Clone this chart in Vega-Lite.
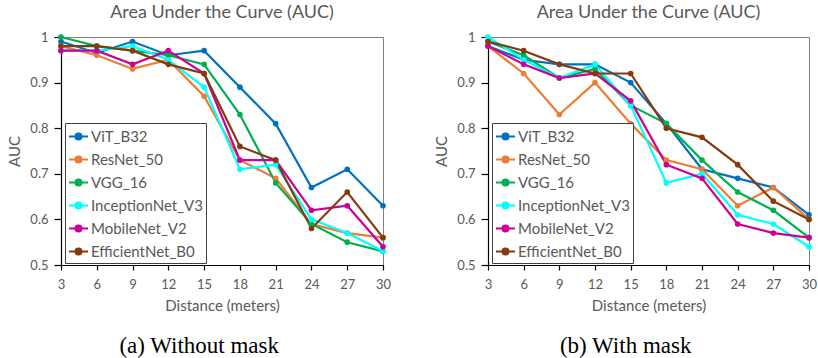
{
  "$schema": "https://vega.github.io/schema/vega-lite/v6.json",
  "padding": {"left": 7, "top": 3, "right": 0, "bottom": 2},
  "background": "white",
  "datasets": {
    "without": [
      {"m": "ViT_B32", "d": 3, "auc": 0.99}, {"m": "ViT_B32", "d": 6, "auc": 0.965}, {"m": "ViT_B32", "d": 9, "auc": 0.99}, {"m": "ViT_B32", "d": 12, "auc": 0.96}, {"m": "ViT_B32", "d": 15, "auc": 0.97}, {"m": "ViT_B32", "d": 18, "auc": 0.89}, {"m": "ViT_B32", "d": 21, "auc": 0.81}, {"m": "ViT_B32", "d": 24, "auc": 0.67}, {"m": "ViT_B32", "d": 27, "auc": 0.71}, {"m": "ViT_B32", "d": 30, "auc": 0.63},
      {"m": "ResNet_50", "d": 3, "auc": 0.98}, {"m": "ResNet_50", "d": 6, "auc": 0.96}, {"m": "ResNet_50", "d": 9, "auc": 0.93}, {"m": "ResNet_50", "d": 12, "auc": 0.95}, {"m": "ResNet_50", "d": 15, "auc": 0.87}, {"m": "ResNet_50", "d": 18, "auc": 0.73}, {"m": "ResNet_50", "d": 21, "auc": 0.69}, {"m": "ResNet_50", "d": 24, "auc": 0.59}, {"m": "ResNet_50", "d": 27, "auc": 0.57}, {"m": "ResNet_50", "d": 30, "auc": 0.56},
      {"m": "VGG_16", "d": 3, "auc": 1.0}, {"m": "VGG_16", "d": 6, "auc": 0.98}, {"m": "VGG_16", "d": 9, "auc": 0.97}, {"m": "VGG_16", "d": 12, "auc": 0.96}, {"m": "VGG_16", "d": 15, "auc": 0.94}, {"m": "VGG_16", "d": 18, "auc": 0.83}, {"m": "VGG_16", "d": 21, "auc": 0.68}, {"m": "VGG_16", "d": 24, "auc": 0.59}, {"m": "VGG_16", "d": 27, "auc": 0.55}, {"m": "VGG_16", "d": 30, "auc": 0.53},
      {"m": "InceptionNet_V3", "d": 3, "auc": 0.97}, {"m": "InceptionNet_V3", "d": 6, "auc": 0.97}, {"m": "InceptionNet_V3", "d": 9, "auc": 0.98}, {"m": "InceptionNet_V3", "d": 12, "auc": 0.95}, {"m": "InceptionNet_V3", "d": 15, "auc": 0.89}, {"m": "InceptionNet_V3", "d": 18, "auc": 0.71}, {"m": "InceptionNet_V3", "d": 21, "auc": 0.72}, {"m": "InceptionNet_V3", "d": 24, "auc": 0.6}, {"m": "InceptionNet_V3", "d": 27, "auc": 0.57}, {"m": "InceptionNet_V3", "d": 30, "auc": 0.53},
      {"m": "MobileNet_V2", "d": 3, "auc": 0.97}, {"m": "MobileNet_V2", "d": 6, "auc": 0.97}, {"m": "MobileNet_V2", "d": 9, "auc": 0.94}, {"m": "MobileNet_V2", "d": 12, "auc": 0.97}, {"m": "MobileNet_V2", "d": 15, "auc": 0.92}, {"m": "MobileNet_V2", "d": 18, "auc": 0.73}, {"m": "MobileNet_V2", "d": 21, "auc": 0.73}, {"m": "MobileNet_V2", "d": 24, "auc": 0.62}, {"m": "MobileNet_V2", "d": 27, "auc": 0.63}, {"m": "MobileNet_V2", "d": 30, "auc": 0.54},
      {"m": "EfficientNet_B0", "d": 3, "auc": 0.98}, {"m": "EfficientNet_B0", "d": 6, "auc": 0.98}, {"m": "EfficientNet_B0", "d": 9, "auc": 0.97}, {"m": "EfficientNet_B0", "d": 12, "auc": 0.94}, {"m": "EfficientNet_B0", "d": 15, "auc": 0.92}, {"m": "EfficientNet_B0", "d": 18, "auc": 0.76}, {"m": "EfficientNet_B0", "d": 21, "auc": 0.73}, {"m": "EfficientNet_B0", "d": 24, "auc": 0.58}, {"m": "EfficientNet_B0", "d": 27, "auc": 0.66}, {"m": "EfficientNet_B0", "d": 30, "auc": 0.56}
    ],
    "with": [
      {"m": "ViT_B32", "d": 3, "auc": 0.98}, {"m": "ViT_B32", "d": 6, "auc": 0.95}, {"m": "ViT_B32", "d": 9, "auc": 0.94}, {"m": "ViT_B32", "d": 12, "auc": 0.94}, {"m": "ViT_B32", "d": 15, "auc": 0.9}, {"m": "ViT_B32", "d": 18, "auc": 0.81}, {"m": "ViT_B32", "d": 21, "auc": 0.71}, {"m": "ViT_B32", "d": 24, "auc": 0.69}, {"m": "ViT_B32", "d": 27, "auc": 0.67}, {"m": "ViT_B32", "d": 30, "auc": 0.61},
      {"m": "ResNet_50", "d": 3, "auc": 0.98}, {"m": "ResNet_50", "d": 6, "auc": 0.92}, {"m": "ResNet_50", "d": 9, "auc": 0.83}, {"m": "ResNet_50", "d": 12, "auc": 0.9}, {"m": "ResNet_50", "d": 15, "auc": 0.81}, {"m": "ResNet_50", "d": 18, "auc": 0.73}, {"m": "ResNet_50", "d": 21, "auc": 0.71}, {"m": "ResNet_50", "d": 24, "auc": 0.63}, {"m": "ResNet_50", "d": 27, "auc": 0.67}, {"m": "ResNet_50", "d": 30, "auc": 0.6},
      {"m": "VGG_16", "d": 3, "auc": 0.99}, {"m": "VGG_16", "d": 6, "auc": 0.96}, {"m": "VGG_16", "d": 9, "auc": 0.91}, {"m": "VGG_16", "d": 12, "auc": 0.93}, {"m": "VGG_16", "d": 15, "auc": 0.85}, {"m": "VGG_16", "d": 18, "auc": 0.81}, {"m": "VGG_16", "d": 21, "auc": 0.73}, {"m": "VGG_16", "d": 24, "auc": 0.66}, {"m": "VGG_16", "d": 27, "auc": 0.62}, {"m": "VGG_16", "d": 30, "auc": 0.56},
      {"m": "InceptionNet_V3", "d": 3, "auc": 1.0}, {"m": "InceptionNet_V3", "d": 6, "auc": 0.95}, {"m": "InceptionNet_V3", "d": 9, "auc": 0.91}, {"m": "InceptionNet_V3", "d": 12, "auc": 0.94}, {"m": "InceptionNet_V3", "d": 15, "auc": 0.85}, {"m": "InceptionNet_V3", "d": 18, "auc": 0.68}, {"m": "InceptionNet_V3", "d": 21, "auc": 0.7}, {"m": "InceptionNet_V3", "d": 24, "auc": 0.61}, {"m": "InceptionNet_V3", "d": 27, "auc": 0.59}, {"m": "InceptionNet_V3", "d": 30, "auc": 0.54},
      {"m": "MobileNet_V2", "d": 3, "auc": 0.98}, {"m": "MobileNet_V2", "d": 6, "auc": 0.94}, {"m": "MobileNet_V2", "d": 9, "auc": 0.91}, {"m": "MobileNet_V2", "d": 12, "auc": 0.92}, {"m": "MobileNet_V2", "d": 15, "auc": 0.86}, {"m": "MobileNet_V2", "d": 18, "auc": 0.72}, {"m": "MobileNet_V2", "d": 21, "auc": 0.69}, {"m": "MobileNet_V2", "d": 24, "auc": 0.59}, {"m": "MobileNet_V2", "d": 27, "auc": 0.57}, {"m": "MobileNet_V2", "d": 30, "auc": 0.56},
      {"m": "EfficientNet_B0", "d": 3, "auc": 0.99}, {"m": "EfficientNet_B0", "d": 6, "auc": 0.97}, {"m": "EfficientNet_B0", "d": 9, "auc": 0.94}, {"m": "EfficientNet_B0", "d": 12, "auc": 0.92}, {"m": "EfficientNet_B0", "d": 15, "auc": 0.92}, {"m": "EfficientNet_B0", "d": 18, "auc": 0.8}, {"m": "EfficientNet_B0", "d": 21, "auc": 0.78}, {"m": "EfficientNet_B0", "d": 24, "auc": 0.72}, {"m": "EfficientNet_B0", "d": 27, "auc": 0.64}, {"m": "EfficientNet_B0", "d": 30, "auc": 0.6}
    ]
  },
  "hconcat": [
    {
      "title": {"text": "(a) Without mask", "orient": "bottom", "anchor": "middle", "font": "Liberation Serif", "fontSize": 23, "fontWeight": "normal", "color": "#000000", "offset": 21},
      "resolve": {"scale": {"fill": "independent", "stroke": "independent"}, "legend": {"fill": "independent", "stroke": "independent"}},
      "vconcat": [
        {
          "width": 322, "height": 228,
          "title": {"text": "Area Under the Curve (AUC)", "anchor": "middle", "fontSize": 18, "fontWeight": "normal", "color": "#595959", "font": "Lato", "offset": 9},
          "data": {"name": "without"},
          "encoding": {
            "x": {"field": "d", "type": "quantitative", "scale": {"domain": [3, 30], "nice": false, "zero": false}, "axis": {"values": [3, 6, 9, 12, 15, 18, 21, 24, 27, 30], "title": "Distance (meters)"}},
            "y": {"field": "auc", "type": "quantitative", "scale": {"domain": [0.5, 1], "nice": false, "zero": false}, "axis": {"values": [0.5, 0.6, 0.7, 0.8, 0.9, 1], "format": "~g", "title": "AUC"}}
          },
          "layer": [
            {"mark": {"type": "line", "strokeWidth": 2.2},
             "encoding": {"stroke": {"field": "m", "type": "nominal", "scale": {"domain": ["ViT_B32", "ResNet_50", "VGG_16", "InceptionNet_V3", "MobileNet_V2", "EfficientNet_B0"], "range": ["#0070C0", "#ED7D31", "#00B050", "#00FFFF", "#CC0099", "#843C0C"]}, "legend": {"orient": "none", "legendX": 4, "legendY": 86}}}},
            {"mark": {"type": "point", "filled": true, "size": 32, "opacity": 1},
             "encoding": {"fill": {"field": "m", "type": "nominal", "scale": {"domain": ["ViT_B32", "ResNet_50", "VGG_16", "InceptionNet_V3", "MobileNet_V2", "EfficientNet_B0"], "range": ["#0070C0", "#ED7D31", "#00B050", "#00FFFF", "#CC0099", "#843C0C"]}, "legend": {"orient": "none", "legendX": 4, "legendY": 86}}}}
          ]
        }
      ]
    },
    {
      "title": {"text": "(b) With mask", "orient": "bottom", "anchor": "middle", "font": "Liberation Serif", "fontSize": 23, "fontWeight": "normal", "color": "#000000", "offset": 21},
      "resolve": {"scale": {"fill": "independent", "stroke": "independent"}, "legend": {"fill": "independent", "stroke": "independent"}},
      "vconcat": [
        {
          "width": 321, "height": 228,
          "title": {"text": "Area Under the Curve (AUC)", "anchor": "middle", "fontSize": 18, "fontWeight": "normal", "color": "#595959", "font": "Lato", "offset": 9},
          "data": {"name": "with"},
          "encoding": {
            "x": {"field": "d", "type": "quantitative", "scale": {"domain": [3, 30], "nice": false, "zero": false}, "axis": {"values": [3, 6, 9, 12, 15, 18, 21, 24, 27, 30], "title": "Distance (meters)"}},
            "y": {"field": "auc", "type": "quantitative", "scale": {"domain": [0.5, 1], "nice": false, "zero": false}, "axis": {"values": [0.5, 0.6, 0.7, 0.8, 0.9, 1], "format": "~g", "title": "AUC"}}
          },
          "layer": [
            {"mark": {"type": "line", "strokeWidth": 2.2},
             "encoding": {"stroke": {"field": "m", "type": "nominal", "scale": {"domain": ["ViT_B32", "ResNet_50", "VGG_16", "InceptionNet_V3", "MobileNet_V2", "EfficientNet_B0"], "range": ["#0070C0", "#ED7D31", "#00B050", "#00FFFF", "#CC0099", "#843C0C"]}, "legend": {"orient": "none", "legendX": 4, "legendY": 86}}}},
            {"mark": {"type": "point", "filled": true, "size": 32, "opacity": 1},
             "encoding": {"fill": {"field": "m", "type": "nominal", "scale": {"domain": ["ViT_B32", "ResNet_50", "VGG_16", "InceptionNet_V3", "MobileNet_V2", "EfficientNet_B0"], "range": ["#0070C0", "#ED7D31", "#00B050", "#00FFFF", "#CC0099", "#843C0C"]}, "legend": {"orient": "none", "legendX": 4, "legendY": 86}}}}
          ]
        }
      ]
    }
  ],
  "resolve": {"scale": {"fill": "independent", "stroke": "independent"}, "legend": {"fill": "independent", "stroke": "independent"}},
  "config": {
    "font": "Lato",
    "concat": {"spacing": 42},
    "view": {"stroke": "#7f7f7f", "strokeWidth": 1},
    "axis": {"grid": false, "labelColor": "#595959", "titleColor": "#595959", "labelFont": "Lato", "titleFont": "Lato", "labelFontSize": 13, "titleFontSize": 15, "titleFontWeight": "normal", "domainColor": "#000000", "tickColor": "#000000", "domainWidth": 1.2, "tickWidth": 1.2},
    "axisX": {"tickSize": 5, "labelPadding": 8, "titlePadding": 7, "labelFlush": false},
    "axisY": {"tickSize": 7, "labelPadding": 6, "titlePadding": 7},
    "legend": {
      "title": null,
      "symbolType": "M-1,0L1,0M-0.32,0A0.32,0.32,0,1,0,0.32,0A0.32,0.32,0,1,0,-0.32,0Z",
      "symbolSize": 361,
      "symbolStrokeWidth": 2,
      "labelFont": "Lato",
      "labelFontSize": 15,
      "labelColor": "#595959",
      "labelOffset": 2,
      "labelLimit": 250,
      "rowPadding": 4,
      "padding": 3,
      "strokeColor": "#404040",
      "fillColor": "white"
    }
  }
}
